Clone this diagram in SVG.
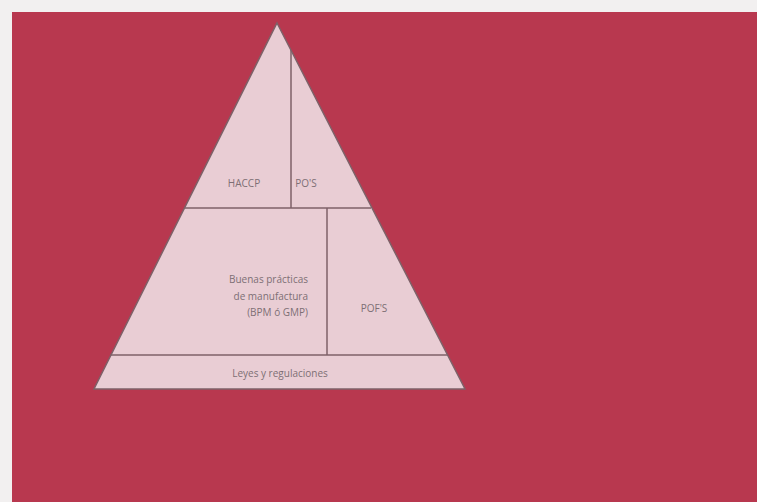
<svg xmlns="http://www.w3.org/2000/svg" width="757" height="502" viewBox="0 0 757 502">
<style>
.sec{fill:#e9cdd4;stroke:none}
.ln{stroke:#7e6168;stroke-width:1.5;fill:none}
.t{font-family:"Open Sans","Liberation Sans",sans-serif;font-size:10px;fill:#7d6f74}
</style>
<rect x="0" y="0" width="757" height="502" fill="#f2f0f0"/>
<rect x="12" y="12" width="745" height="490" fill="#b8384f"/>
<g id="pyramid">
<polygon class="sec" points="277,23 465,389 94,389"/>
<polygon class="ln" points="277,23 465,389 94,389"/>
</g>
<g id="connectors">
<line class="ln" x1="185" y1="208" x2="371" y2="208"/>
<line class="ln" x1="291" y1="50" x2="291" y2="208"/>
<line class="ln" x1="110" y1="355" x2="448" y2="355"/>
<line class="ln" x1="327" y1="208" x2="327" y2="355"/>
</g>
<g id="haccp"><text class="t" x="244" y="187" text-anchor="middle">HACCP</text></g>
<g id="pos"><text class="t" x="306" y="187" text-anchor="middle">PO'S</text></g>
<g id="bpm">
<text class="t" x="308" y="283" text-anchor="end">Buenas prácticas</text>
<text class="t" x="308" y="300" text-anchor="end">de manufactura</text>
<text class="t" x="308" y="316" text-anchor="end">(BPM ó GMP)</text>
</g>
<g id="pofs"><text class="t" x="374" y="312" text-anchor="middle">POF'S</text></g>
<g id="leyes"><text class="t" x="280" y="377" text-anchor="middle">Leyes y regulaciones</text></g>
</svg>
